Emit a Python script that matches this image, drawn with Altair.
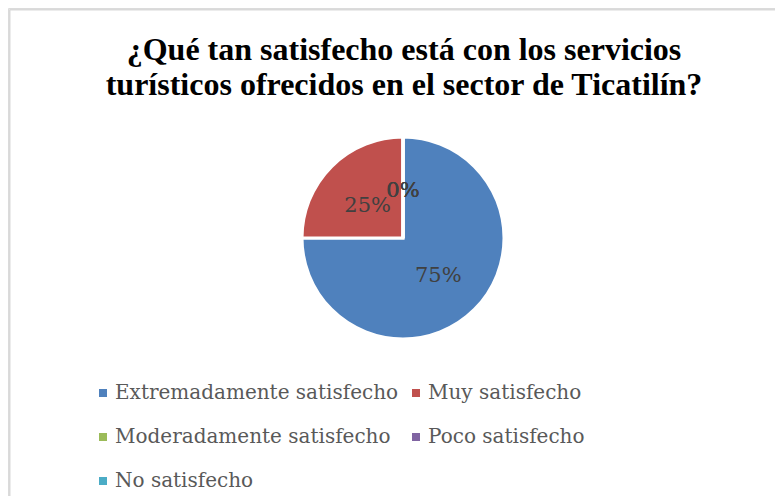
import altair as alt
import pandas as pd

categories = [
    "Extremadamente satisfecho",
    "Muy satisfecho",
    "Moderadamente satisfecho",
    "Poco satisfecho",
    "No satisfecho",
]
percent = [75, 25, 0, 0, 0]
colors = ["#4F81BD", "#C0504D", "#9BBB59", "#8064A2", "#4BACC6"]
title_lines = [
    "¿Qué tan satisfecho está con los servicios",
    "turísticos ofrecidos en el sector de Ticatilín?",
]

df = pd.DataFrame({
    "cat": categories,
    "pct": percent,
    "order": list(range(len(categories))),
    "label": [f"{p}%" for p in percent],
})

W, H = 767, 488
cx, cy = 395, 230

base = alt.Chart(df).encode(
    theta=alt.Theta("pct:Q", stack=True),
    order=alt.Order("order:Q"),
)

pie = base.mark_arc(outerRadius=101, stroke="white", strokeWidth=3).encode(
    x=alt.value(cx),
    y=alt.value(cy),
    color=alt.Color(
        "cat:N",
        sort=categories,
        scale=alt.Scale(domain=categories, range=colors),
        legend=alt.Legend(
            title=None,
            orient="none",
            direction="horizontal",
            legendX=85,
            legendY=375,
            columns=2,
            symbolType="square",
            symbolSize=64,
            symbolStrokeWidth=0,
            labelFont="DejaVu Serif",
            labelFontSize=20,
            labelColor="#595959",
            labelOffset=2,
            rowPadding=24,
            columnPadding=7,
            labelLimit=400,
        ),
    ),
)

labels = base.mark_text(
    radius=50, dy=3, font="DejaVu Serif", fontSize=21, color="#404040"
).encode(
    x=alt.value(cx),
    y=alt.value(cy),
    text="label:N",
)

title = alt.Chart(pd.DataFrame({"k": [0]})).mark_text(
    font="Liberation Serif",
    fontSize=32,
    fontWeight="bold",
    color="#000000",
    lineHeight=35,
    baseline="top",
    align="center",
).encode(
    x=alt.value(396),
    y=alt.value(27),
    text=alt.value(title_lines),
)

border_top = alt.Chart(pd.DataFrame({"k": [0]})).mark_rule(
    color="#d9d9d9", strokeWidth=2
).encode(x=alt.value(1.5), x2=alt.value(W), y=alt.value(1.5))
border_left = alt.Chart(pd.DataFrame({"k": [0]})).mark_rule(
    color="#d9d9d9", strokeWidth=2
).encode(x=alt.value(1.5), y=alt.value(1.5), y2=alt.value(H))

chart = (
    alt.layer(border_top, border_left, pie, labels, title)
    .properties(width=W, height=H, autosize=alt.AutoSizeParams(type="none"), padding=0)
    .configure_view(stroke=None)
    .configure(background="white")
)

chart.save("out.html", embed_options={"renderer": "svg", "actions": False})
